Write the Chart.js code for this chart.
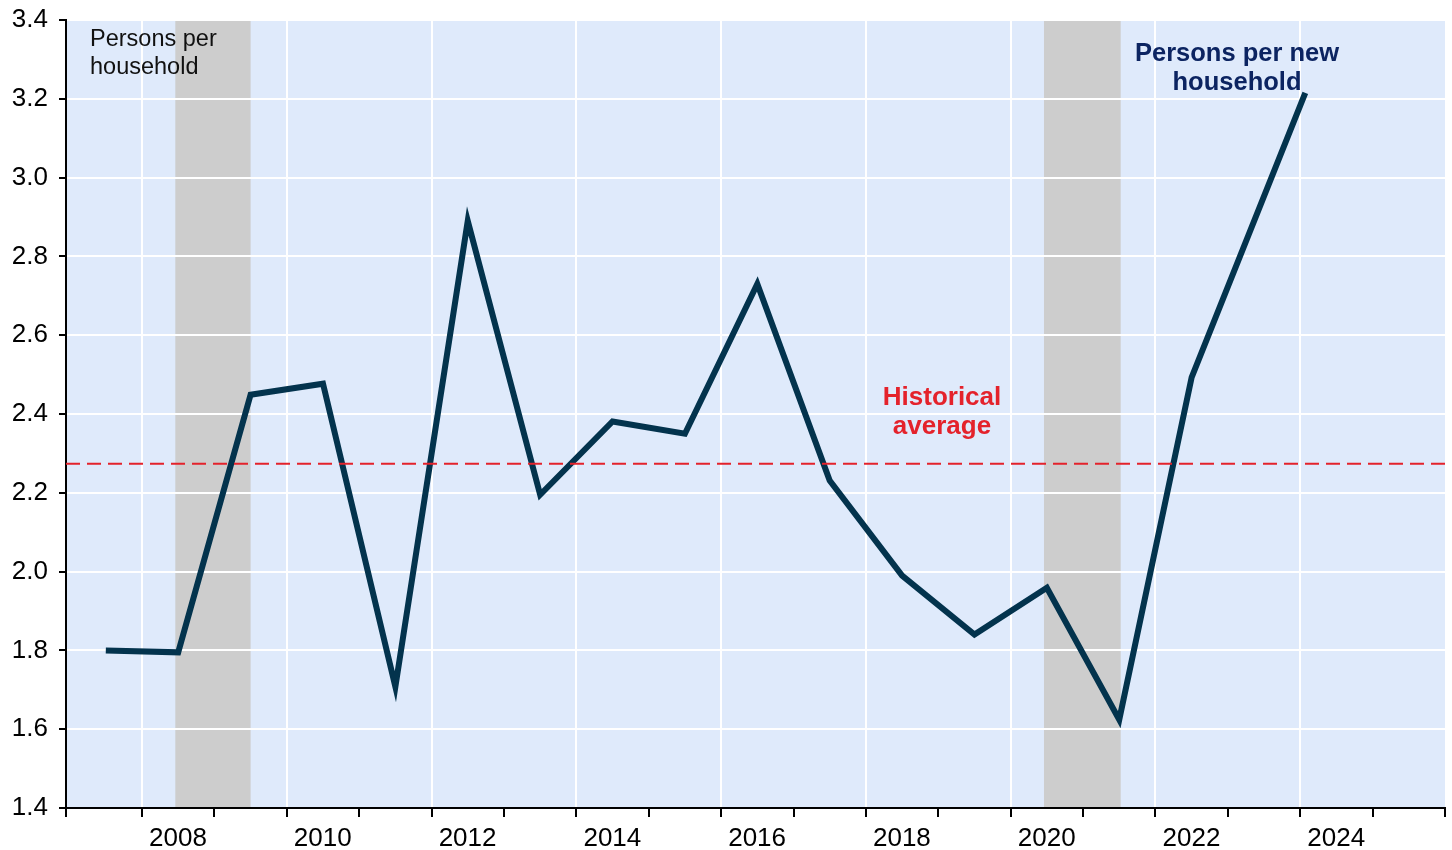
<!DOCTYPE html>
<html>
<head>
<meta charset="utf-8">
<script src="https://cdn.jsdelivr.net/npm/chart.js@4.4.1/dist/chart.umd.min.js"></script>
<style>
  html, body { margin: 0; padding: 0; background: #fff; }
  #wrap { width: 1452px; height: 850px; }
</style>
</head>
<body>
<div id="wrap"><canvas id="chart" width="1452" height="850"></canvas></div>
<script>
// === DADOS ===
const years = [2007.5, 2008.5, 2009.5, 2010.5, 2011.5, 2012.5, 2013.5, 2014.5, 2015.5,
               2016.5, 2017.5, 2018.5, 2019.5, 2020.5, 2021.5, 2022.5, 2024.07];
const personsPerNewHousehold = [1.80, 1.795, 2.449, 2.477, 1.708, 2.89, 2.195, 2.381, 2.350,
                                2.73, 2.231, 1.990, 1.840, 1.959, 1.624, 2.493, 3.215];
const historicalAverage = 2.274;
const recessions = [[2008.46, 2009.5], [2020.46, 2021.52]];
const yTicks = [1.4, 1.6, 1.8, 2.0, 2.2, 2.4, 2.6, 2.8, 3.0, 3.2, 3.4];
const labelYears = [2008, 2010, 2012, 2014, 2016, 2018, 2020, 2022, 2024];

const FONT = "'Liberation Sans', Arial, sans-serif";

// fundo azul + faixas cinzas (antes do grid)
const bgPlugin = {
    id: 'bg',
    beforeDraw(chart) {
        const { ctx, chartArea: a, scales: { x } } = chart;
        ctx.save();
        ctx.fillStyle = '#dfeafb';
        ctx.fillRect(a.left, a.top, a.right - a.left, a.bottom - a.top);
        ctx.fillStyle = '#cdcdcd';
        recessions.forEach(([s, e]) => {
            const x0 = x.getPixelForValue(s), x1 = x.getPixelForValue(e);
            ctx.fillRect(x0, a.top, x1 - x0, a.bottom - a.top);
        });
        ctx.restore();
    }
};

// textos e linha da média
const notesPlugin = {
    id: 'notes',
    afterDatasetsDraw(chart) {
        const { ctx, chartArea: a, scales: { x, y } } = chart;
        ctx.save();
        // linha tracejada da média histórica
        const ya = y.getPixelForValue(historicalAverage);
        ctx.strokeStyle = '#e4222b';
        ctx.lineWidth = 2;
        ctx.setLineDash([14, 7]);
        ctx.beginPath();
        ctx.moveTo(a.left, ya);
        ctx.lineTo(a.right, ya);
        ctx.stroke();
        ctx.setLineDash([]);

        ctx.textBaseline = 'alphabetic';
        ctx.fillStyle = '#111';
        ctx.textAlign = 'left';
        ctx.font = `23.5px ${FONT}`;
        ctx.fillText('Persons per', a.left + 24, 46);
        ctx.fillText('household', a.left + 24, 74);

        ctx.fillStyle = '#0c2461';
        ctx.textAlign = 'center';
        ctx.font = `bold 25.5px ${FONT}`;
        ctx.fillText('Persons per new', 1237, 61);
        ctx.fillText('household', 1237, 90);

        ctx.fillStyle = '#e4222b';
        ctx.font = `bold 26px ${FONT}`;
        ctx.fillText('Historical', 942, 405);
        ctx.fillText('average', 942, 434);
        ctx.restore();
    }
};

const isEven = v => Math.abs(v - Math.round(v)) < 1e-6 && Math.round(v) % 2 === 0;
const hasLabel = v => labelYears.some(l => Math.abs(l - v) < 1e-6);

new Chart(document.getElementById('chart'), {
    type: 'line',
    data: {
        datasets: [{
            data: years.map((yr, i) => ({ x: yr, y: personsPerNewHousehold[i] })),
            borderColor: '#03334d',
            borderWidth: 6,
            borderJoinStyle: 'miter',
            borderCapStyle: 'butt',
            pointRadius: 0,
            tension: 0,
            fill: false
        }]
    },
    options: {
        responsive: false,
        animation: false,
        layout: { padding: { top: 20, right: 7, left: 0, bottom: 0 } },
        plugins: { legend: { display: false }, tooltip: { enabled: false } },
        scales: {
            x: {
                type: 'linear',
                min: 2006.95,
                max: 2026,
                afterFit: s => { s.height = 42; s.paddingRight = 0; s.paddingLeft = 0; },
                border: { display: true, color: '#000', width: 2 },
                grid: {
                    color: c => isEven(c.tick.value) && c.tick.value < 2025 ? '#ffffff' : 'rgba(0,0,0,0)',
                    lineWidth: 2,
                    tickColor: '#000',
                    tickWidth: 2,
                    tickLength: 9
                },
                ticks: {
                    stepSize: 1,
                    autoSkip: false,
                    maxRotation: 0,
                    labelOffset: 36,
                    padding: 6,
                    color: '#000',
                    font: { family: FONT, size: 26 },
                    callback: v => hasLabel(v) ? String(Math.round(v)) : ''
                }
            },
            y: {
                min: 1.4,
                max: 3.4,
                afterFit: s => { s.width = 66; s.paddingTop = 0; s.paddingBottom = 0; },
                afterBuildTicks: s => { s.ticks = yTicks.map(v => ({ value: v })); },
                border: { display: true, color: '#000', width: 2 },
                grid: {
                    color: '#ffffff',
                    lineWidth: 2,
                    tickColor: '#000',
                    tickWidth: 2,
                    tickLength: 7
                },
                ticks: {
                    padding: 11,
                    color: '#000',
                    font: { family: FONT, size: 26 },
                    callback: v => Number(v).toFixed(1)
                }
            }
        }
    },
    plugins: [bgPlugin, notesPlugin]
});
</script>
</body>
</html>
